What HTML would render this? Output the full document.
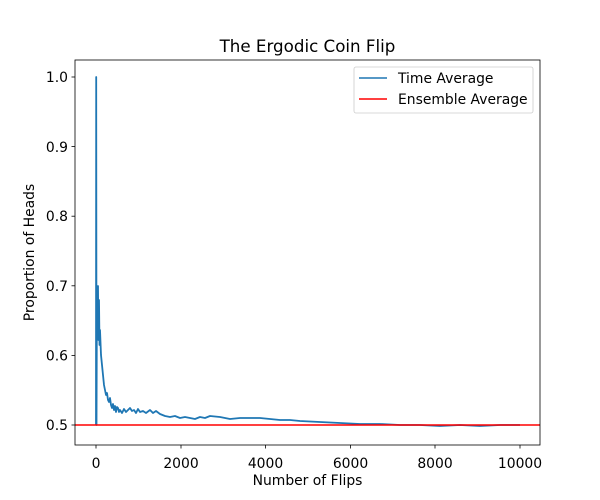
<!DOCTYPE html>
<html><head><style>body{margin:0;background:#fff}svg{display:block}text{font-family:"DejaVu Sans","Liberation Sans",sans-serif;fill:#000}</style></head>
<body>
<svg width="600" height="500" xmlns="http://www.w3.org/2000/svg">
<rect width="600" height="500" fill="#fff"/>
<clipPath id="c"><rect x="75" y="60" width="465" height="385"/></clipPath>
<g clip-path="url(#c)">
<path fill="none" stroke="#1f77b4" stroke-width="1.8" stroke-linejoin="round" d="M96,425 L96.2,77 L96.5,425 L96.8,330 L97.2,287 L97.6,320 L98,286 L98.4,340 L99,300 L99.5,345 L100,330 L101,355 L102,365 L103,375 L104,385 L105,390 L106,395 L107,393 L108,400 L109,402 L110,398 L111,405 L112,408 L113,404 L114,410 L115,406 L116,412 L117,407 L118,408 L119,412 L120,410 L122,413 L124,409 L126,412 L128,410 L130,408 L132,411 L134,410 L136,413 L138,409 L140,412 L143,411 L146,413 L150,410 L153,413 L156,411 L160,414 L165,416 L170,417 L175,416 L180,418 L185,417 L190,418 L195,419 L200,417 L205,418 L210,416 L220,417 L230,419 L240,418 L250,418 L260,418 L270,419 L280,420 L290,420 L300,421 L320,422 L340,423 L360,424 L380,424 L400,425 L420,425 L440,426 L460,425 L480,426 L500,425 L520,425"/>
</g>
<line x1="75" y1="425" x2="540" y2="425" stroke="#ff0000" stroke-width="1.5"/>
<rect x="75" y="60" width="465" height="385" fill="none" stroke="#000" stroke-width="0.8"/>
<g stroke="#000" stroke-width="0.8">
<line x1="96" y1="445" x2="96" y2="448.5"/><line x1="181" y1="445" x2="181" y2="448.5"/><line x1="265.5" y1="445" x2="265.5" y2="448.5"/><line x1="350.5" y1="445" x2="350.5" y2="448.5"/><line x1="435" y1="445" x2="435" y2="448.5"/><line x1="520" y1="445" x2="520" y2="448.5"/>
<line x1="71.5" y1="425" x2="75" y2="425"/><line x1="71.5" y1="355.4" x2="75" y2="355.4"/><line x1="71.5" y1="285.8" x2="75" y2="285.8"/><line x1="71.5" y1="216.2" x2="75" y2="216.2"/><line x1="71.5" y1="146.6" x2="75" y2="146.6"/><line x1="71.5" y1="77" x2="75" y2="77"/>
</g>
<g font-size="13.9" text-anchor="middle">
<text x="96" y="468">0</text><text x="181" y="468">2000</text><text x="265.5" y="468">4000</text><text x="350.5" y="468">6000</text><text x="435" y="468">8000</text><text x="520" y="468">10000</text>
</g>
<g font-size="13.9" text-anchor="end">
<text x="68" y="430">0.5</text><text x="68" y="360.5">0.6</text><text x="68" y="291">0.7</text><text x="68" y="221">0.8</text><text x="68" y="152">0.9</text><text x="68" y="82">1.0</text>
</g>
<text x="307.5" y="485" font-size="13.9" text-anchor="middle">Number of Flips</text>
<text transform="translate(34,252.5) rotate(-90)" font-size="13.9" text-anchor="middle">Proportion of Heads</text>
<text x="307.5" y="52" font-size="16.7" text-anchor="middle">The Ergodic Coin Flip</text>
<rect x="354" y="67" width="179" height="46" rx="2" fill="#fff" stroke="#ccc" stroke-width="0.8"/>
<line x1="359" y1="78" x2="387" y2="78" stroke="#1f77b4" stroke-width="1.5"/>
<line x1="359" y1="99" x2="387" y2="99" stroke="#ff0000" stroke-width="1.5"/>
<text x="398" y="83" font-size="13.9">Time Average</text>
<text x="398" y="104" font-size="13.9">Ensemble Average</text>
</svg>
</body></html>
